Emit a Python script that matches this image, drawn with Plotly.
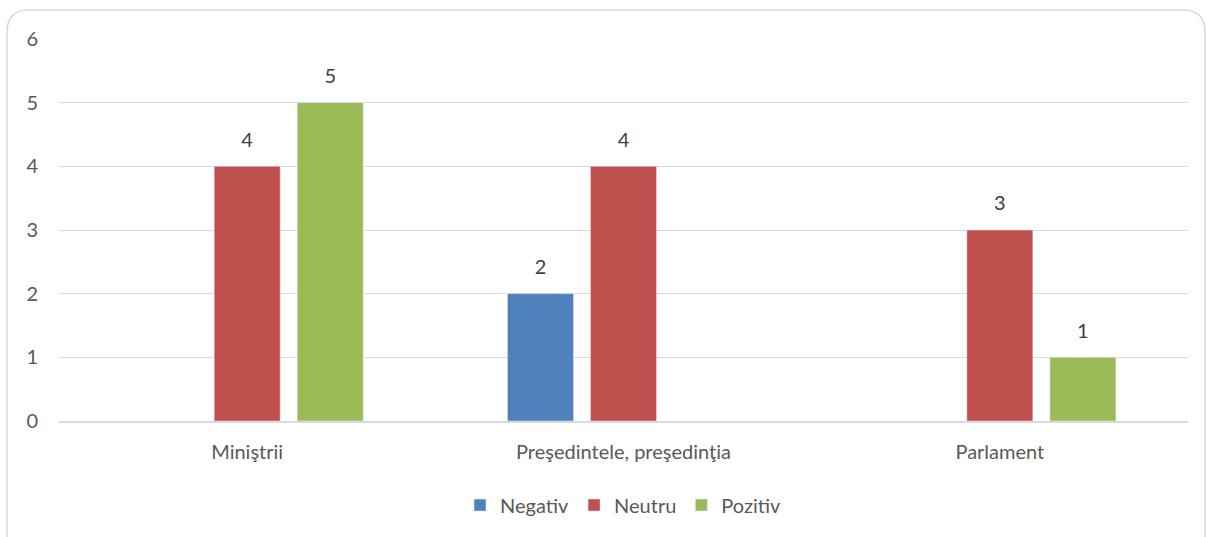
import plotly.graph_objects as go

categories = ["Miniştrii", "Preşedintele, preşedinţia", "Parlament"]
negativ = [None, 2, None]
neutru = [4, 4, 3]
pozitiv = [5, None, 1]
y_ticks = [0, 1, 2, 3, 4, 5, 6]

series = [("Negativ", negativ, "#4F81BD"), ("Neutru", neutru, "#C0504D"), ("Pozitiv", pozitiv, "#9BBB59")]

FONT = "Lato, Noto Sans, sans-serif"
FS = 20
GAP = 0.338

fig = go.Figure()
for name, vals, color in series:
    fig.add_trace(go.Bar(
        name=name, x=categories, y=vals, marker_color=color,
        offsetgroup=name, hoverinfo="x+y+name",
    ))
for name, vals, color in series:
    fig.add_trace(go.Scatter(
        x=categories, y=vals, mode="markers+text", offsetgroup=name,
        text=[("" if v is None else str(v)) for v in vals],
        textposition="top center", cliponaxis=False,
        marker=dict(size=22, opacity=0), showlegend=False, hoverinfo="skip",
        textfont=dict(size=FS, color="#404040", family=FONT),
    ))

W, H = 1206, 537
ml, mr, mt, mb = 59, 18, 39, 116
pw, ph = W - ml - mr, H - mt - mb

def px(x):
    return (x - ml) / pw

def py(y):
    return (H - mb - y) / ph

r = 22
x0, x1, y0, y1 = 7, 1205, 10, 560
path = (f"M {px(x0)},{py(y0 + r)} "
        f"Q {px(x0)},{py(y0)} {px(x0 + r)},{py(y0)} "
        f"L {px(x1 - r)},{py(y0)} "
        f"Q {px(x1)},{py(y0)} {px(x1)},{py(y0 + r)} "
        f"L {px(x1)},{py(y1)} L {px(x0)},{py(y1)} Z")

fig.update_layout(
    width=W, height=H,
    margin=dict(l=ml, r=mr, t=mt, b=mb),
    paper_bgcolor="white", plot_bgcolor="white",
    barmode="group", bargap=GAP, bargroupgap=0.205,
    scattermode="group", scattergap=GAP,
    font=dict(family=FONT, size=FS, color="#595959"),
    legend=dict(orientation="h", x=0.5, xanchor="center", y=-0.22, yanchor="middle",
                font=dict(size=FS, color="#595959"), traceorder="normal"),
    xaxis=dict(showgrid=False, showline=True, linecolor="#d9d9d9", linewidth=1.5,
               ticks="", ticklabelstandoff=12, tickfont=dict(size=FS, color="#595959")),
    yaxis=dict(range=[0, 6], tickvals=y_ticks, showgrid=True, gridcolor="#d9d9d9", gridwidth=1.2,
               zeroline=False, ticks="", ticklabelstandoff=20,
               tickfont=dict(size=FS, color="#595959")),
    shapes=[dict(type="path", path=path, xref="paper", yref="paper",
                 line=dict(color="#d9d9d9", width=1.5), fillcolor="rgba(0,0,0,0)", layer="below")],
    showlegend=True,
)

fig.write_html("out.html", post_script="document.body.style.margin='0px';",
               config={"displayModeBar": False})
